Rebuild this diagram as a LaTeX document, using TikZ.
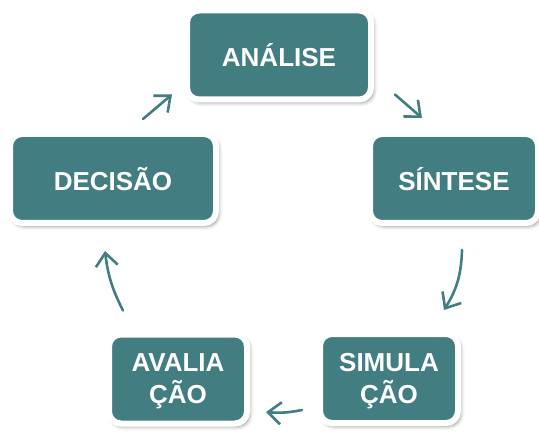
\documentclass[tikz,border=0pt]{standalone}
\usepackage{fontspec}
\setmainfont{Liberation Sans}
\usetikzlibrary{arrows.meta,shadows.blur}
\definecolor{cycleteal}{RGB}{66,125,129}

\begin{document}
\begin{tikzpicture}[x=1pt,y=-1pt,
    stage/.style={draw=white,line width=6pt,fill=cycleteal,rounded corners=12pt,
      minimum height=89pt,inner sep=0pt,align=center,text=white,text depth=0pt,
      font=\fontsize{26}{32}\selectfont\bfseries,
      blur shadow={shadow xshift=2.5pt,shadow yshift=-3pt,shadow blur radius=4pt,shadow opacity=45}},
    flow/.style={draw=cycleteal,line width=2.6pt,line cap=round,
      -{Straight Barb[length=13pt,width=22pt]}}]
  \useasboundingbox (0,0) rectangle (539,433);
  \node[stage,minimum width=184pt] (analise)   at (279,55)    {ANÁLISE};
  \node[stage,minimum width=168pt] (sintese)   at (454,178.5) {SÍNTESE};
  \node[stage,minimum width=138pt] (simulacao) at (389,378.5) {SIMULA\\ÇÃO};
  \node[stage,minimum width=138pt] (avaliacao) at (178,379)   {AVALIA\\ÇÃO};
  \node[stage,minimum width=206pt] (decisao)   at (113,178.5) {DECISÃO};
  \draw[flow] ([xshift=30pt,yshift=12pt]decisao.north) -- ([xshift=-12pt,yshift=8pt]analise.south west);
  \draw[flow] ([xshift=21pt,yshift=8pt]analise.south east) -- ([xshift=-32pt,yshift=13pt]sintese.north);
  \draw[flow] ([xshift=8pt,yshift=-24pt]sintese.south) to[bend left=15] ([xshift=55pt,yshift=21pt]simulacao.north);
  \draw[flow] ([xshift=-15pt,yshift=-31.5pt]simulacao.west) to[bend left=8] ([xshift=16pt,yshift=-33pt]avaliacao.east);
  \draw[flow] ([xshift=-55pt,yshift=21pt]avaliacao.north) to[bend left=10] ([xshift=-8pt,yshift=-25pt]decisao.south);
\end{tikzpicture}
\end{document}
